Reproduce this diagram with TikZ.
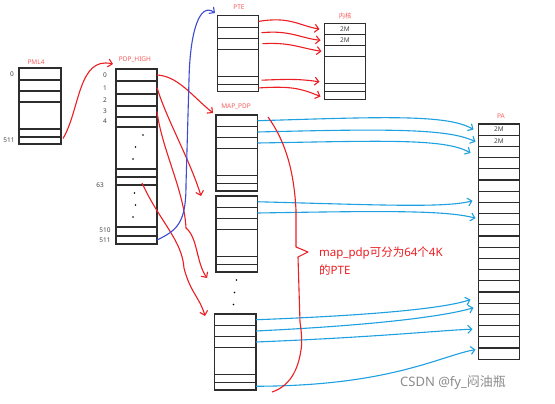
\documentclass[tikz,border=0pt]{standalone}
\usepackage{fontspec}
\setmainfont{Noto Sans}
\newfontfamily\cjk{Noto Sans CJK SC}
\usetikzlibrary{arrows.meta,calc}
\definecolor{hred}{RGB}{235,30,35}
\definecolor{lred}{RGB}{245,95,95}
\definecolor{hblue}{RGB}{60,75,210}
\definecolor{sblue}{RGB}{30,160,225}
\definecolor{boxgray}{RGB}{45,45,45}
\definecolor{numgray}{RGB}{70,70,70}
\definecolor{wmgray}{RGB}{140,140,140}
\tikzset{
  cellbox/.style={draw=boxgray, line width=1.1pt, inner sep=0pt, outer sep=0pt, fill=white},
  tinylbl/.style={text=lred, font=\fontsize{6.5}{7}\selectfont, inner sep=0pt},
  numlbl/.style={text=numgray, font=\fontsize{6.5}{7}\selectfont, inner sep=0pt},
  celltxt/.style={text=numgray, font=\fontsize{6.5}{7}\selectfont, inner sep=0pt},
  redarr/.style={draw=hred, line width=1.1pt, -{Straight Barb[length=4pt,width=8pt]}},
  bluearr/.style={draw=hblue, line width=1.1pt, -{Straight Barb[length=4pt,width=8pt]}},
  skyarr/.style={draw=sblue, line width=1.1pt, -{Straight Barb[length=4pt,width=8pt]}},
  dotmark/.style={fill=black, circle, inner sep=0pt, minimum size=1.6pt}
}
\newcommand{\cellnode}[5]{%
  \node[cellbox, minimum width={((#4)-(#2))*1pt}, minimum height={((#5)-(#3))*1pt}] (#1) at ({((#2)+(#4))/2},{((#3)+(#5))/2}) {};}
\newcommand{\ptebox}[4]{%
  \cellnode{#10}{#2}{#3}{#4}{#3+11.5}
  \cellnode{#11}{#2}{#3+11.5}{#4}{#3+22.5}
  \cellnode{#12}{#2}{#3+22.5}{#4}{#3+33.5}
  \cellnode{#13}{#2}{#3+33.5}{#4}{#3+60.5}
  \cellnode{#14}{#2}{#3+60.5}{#4}{#3+68.5}
  \cellnode{#15}{#2}{#3+68.5}{#4}{#3+76}}
\begin{document}
\begin{tikzpicture}[x=1pt,y=-1pt]
\useasboundingbox[fill=white] (0,0) rectangle (555,404);

% PML4
\cellnode{pm0}{19}{68}{61}{80}
\cellnode{pm1}{19}{80}{61}{91}
\cellnode{pm2}{19}{91}{61}{102}
\cellnode{pm3}{19}{102}{61}{129}
\cellnode{pm4}{19}{129}{61}{137}
\cellnode{pm511}{19}{137}{61}{144}
\node[tinylbl] (lpml4) at (36,62) {PML4};
\node[numlbl] (npm0) at (12,74) {0};
\node[numlbl] (npm511) at (9,140) {511};

% PDP_HIGH
\cellnode{h0}{116}{69}{157}{81}
\cellnode{h1}{116}{81}{157}{94}
\cellnode{h2}{116}{94}{157}{106}
\cellnode{h3}{116}{106}{157}{117}
\cellnode{h4}{116}{117}{157}{127}
\cellnode{hA}{116}{127}{157}{169}
\cellnode{h62}{116}{169}{157}{177}
\cellnode{h63}{116}{177}{157}{185}
\cellnode{hB}{116}{185}{157}{227}
\cellnode{h510}{116}{227}{157}{236}
\cellnode{h511}{116}{236}{157}{244}
\node[tinylbl] (lpdph) at (135,60) {PDP\_HIGH};
\node[numlbl] (nh0) at (105,75) {0};
\node[numlbl] (nh1) at (105,88) {1};
\node[numlbl] (nh2) at (105,100) {2};
\node[numlbl] (nh3) at (105,111) {3};
\node[numlbl] (nh4) at (105,121) {4};
\node[numlbl] (nh63) at (100,185) {63};
\node[numlbl] (nh510) at (105,230.5) {510};
\node[numlbl] (nh511) at (105,240) {511};
\node[dotmark] (hd1) at (143,135) {};
\node[dotmark] (hd2) at (135.5,147) {};
\node[dotmark] (hd3) at (133,159) {};
\node[dotmark] (hd4) at (134.5,193) {};
\node[dotmark] (hd5) at (135.5,205) {};
\node[dotmark] (hd6) at (133,217) {};

% PTE, kernel, MAP_PDP and lower boxes
\ptebox{pte}{217.5}{15.7}{258.5}
\node[tinylbl] (lpte) at (239,7) {PTE};
\ptebox{k}{324.5}{23.3}{365.5}
\node[tinylbl] (lk) at (345,16) {\cjk 内核};
\node[celltxt] at (k0) {2M};
\node[celltxt] at (k1) {2M};
\ptebox{mp}{216}{115}{257.5}
\node[tinylbl] (lmp) at (236,107) {MAP\_PDP};
\ptebox{bb}{216}{196}{257.5}
\ptebox{bc}{214.5}{314}{256}
\node[dotmark] (md1) at (236.5,280) {};
\node[dotmark] (md2) at (234.5,292.5) {};
\node[dotmark] (md3) at (233.5,304.5) {};

% PA
\foreach \i in {0,...,20}{
  \node[cellbox, minimum width=41pt, minimum height=11.2pt] (pa\i) at (499,{124+11.2*\i+5.6}) {};
}
\node[tinylbl] (lpa) at (501,116) {PA};
\node[celltxt] at (pa0) {2M};
\node[celltxt] at (pa1) {2M};

% PML4 -> PDP_HIGH
\draw[redarr] ($(pm511.east)+(2,-2)$) .. controls (80,110) and (78,56) .. (113,64);

% PDP_HIGH -> MAP_PDP and lower boxes
\draw[redarr] (h0.east) .. controls (178,76) and (192,96) .. (213,113);
\draw[redarr] (h1.east) .. controls (166,118) and (190,160) .. (201,196);
\draw[redarr] (h3.east) .. controls (162,150) and (184,190) .. (186,228) .. controls (198,238) and (196,262) .. (207,278);
\draw[redarr] ($(h63.south)+(5.5,-2)$) .. controls (160,222) and (182,240) .. (184,268) .. controls (190,292) and (200,298) .. (205,316);

% PDP_HIGH 511 -> PTE
\draw[bluearr] (h511.east) .. controls (178,230) and (186,222) .. (186,185) -- (189,80) .. controls (190,30) and (200,2) .. (215,13);

% PTE -> kernel
\draw[redarr] (pte0.east) .. controls (290,16) and (300,26) .. ($(k0.west)+(-5,0)$);
\draw[redarr] ($(pte1.east)+(3,0)$) .. controls (290,30) and (300,38) .. ($(k1.west)+(-4,0)$);
\draw[redarr] ($(pte2.east)+(4,0)$) .. controls (290,42) and (300,48) .. ($(k2.west)+(-3,0)$);
\draw[redarr] ($(pte4.east)+(3,0)$) .. controls (290,79) and (300,79) .. ($(k3.south west)+(-5,-2)$);
\draw[redarr] (pte5.east) .. controls (290,86) and (300,88) .. ($(k5.west)+(-4,1)$);

% MAP_PDP and boxes -> PA
\draw[skyarr] (mp0.east) .. controls (380,117) and (448,114) .. ($(pa0.west)+(-5,0)$);
\draw[skyarr] (mp1.east) .. controls (380,129) and (448,128) .. ($(pa1.west)+(-3,1)$);
\draw[skyarr] (mp2.east) .. controls (380,141) and (445,138) .. ($(pa2.west)+(-8,1)$);
\draw[skyarr] (bb0.east) .. controls (380,205) and (445,208) .. ($(pa6.west)+(-6,4)$);
\draw[skyarr] (bb1.east) .. controls (380,211) and (445,210) .. ($(pa8.west)+(-3,-1)$);
\draw[skyarr] (bc0.east) .. controls (380,315) and (445,308) .. ($(pa15.west)+(-8,2)$);
\draw[skyarr] (bc1.east) .. controls (380,325) and (445,316) .. ($(pa16.west)+(-5,-1)$);
\draw[skyarr] (bc2.east) .. controls (380,337) and (445,330) .. ($(pa18.west)+(-6,-2)$);
\draw[skyarr] (bc5.east) .. controls (390,386) and (440,356) .. ($(pa20.west)+(-3,-4)$);

% brace
\draw[hred, line width=1.1pt, line join=round] (268,117) .. controls (286,142) and (294,172) .. (296,210) -- (296,247) -- (308,252) -- (298,257) -- (300,322) .. controls (302,335) and (302,345) .. (301,350) .. controls (298,370) and (290,386) .. (272,392);

% text
\node[anchor=west, text=hred, font=\fontsize{11.5}{13}\selectfont, inner sep=0pt] (t1) at (319,253) {map\_pdp{\cjk 可分为}64{\cjk 个}4K};
\node[anchor=west, text=hred, font=\fontsize{11.5}{13}\selectfont, inner sep=0pt] (t2) at (319,270) {{\cjk 的}PTE};
\node[anchor=west, text=wmgray, font=\fontsize{13}{15}\selectfont, inner sep=0pt] (wm) at (400,383) {CSDN @fy\_{\cjk 闷油瓶}};
\end{tikzpicture}
\end{document}
